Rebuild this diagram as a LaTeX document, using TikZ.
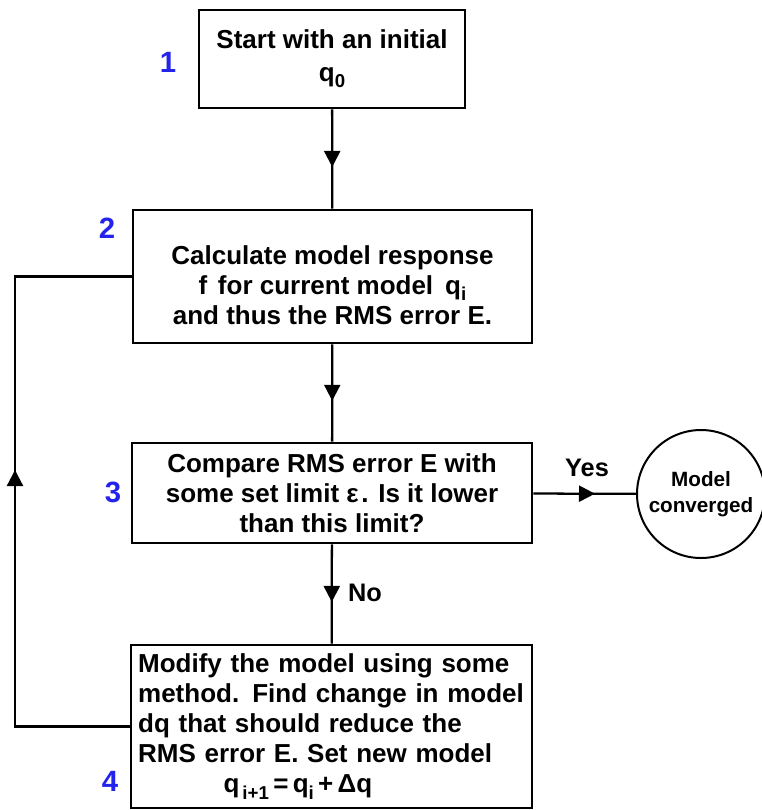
\documentclass[tikz,border=0pt]{standalone}
\usepackage{fontspec}
\setmainfont{Liberation Sans}
\usetikzlibrary{arrows.meta,decorations.markings}
\definecolor{numblue}{RGB}{35,35,235}
\newcommand\sbs[1]{\raisebox{-0.45ex}{\fontsize{14}{14}\selectfont #1}}
\tikzset{
  stepbox/.style={draw, line width=2.2pt, rectangle, inner sep=0pt, align=center,
    font=\fontsize{19.5}{22.5}\selectfont\bfseries},
  conn/.style={line width=1.7pt, line join=miter},
  midarrow/.style={conn, postaction={decorate}, decoration={markings,
    mark=at position #1 with {\arrow{Triangle[length=12pt,width=12pt]}}}},
  numlab/.style={text=numblue, font=\fontsize{22}{22}\selectfont\bfseries},
  edgelab/.style={font=\fontsize{19}{19}\selectfont\bfseries},
}
\begin{document}
\begin{tikzpicture}[x=0.75pt,y=-0.75pt]
\useasboundingbox (0,0) rectangle (761,810);
\node[stepbox, minimum width=199.5pt, minimum height=73.5pt] (b1) at (332,59)
  {Start with an initial\\[2pt] q\sbs{0}};
\node[stepbox, minimum width=299.25pt, minimum height=99.75pt] (b2) at (332.5,276.5)
  {\rule{0pt}{27pt}Calculate model response\\ f\hspace{8pt}for current model\hspace{9pt}q\sbs{i}\\ and\ thus the RMS error E.};
\node[stepbox, minimum width=300pt, minimum height=75pt] (b3) at (332,493)
  {Compare RMS error E with\\ some set limit ε\kern2pt. Is it lower\\ than this limit?};
\node[stepbox, minimum width=300.75pt, minimum height=122.25pt, align=left,
  text width=290pt] (b4) at (331.5,726.5)
  {Modify the model using some\\ method. Find change in model\\ dq that should reduce the\\ RMS error E. Set new model\\ \hspace*{64pt}q\sbs{\,i+1}\,=\,q\sbs{i}\,+\,Δq};
\node[draw, circle, line width=1.5pt, minimum size=96pt, inner sep=0pt, align=center,
  font=\fontsize{15.5}{19.5}\selectfont\bfseries] (c) at (701,494) {Model\\ converged};
\node[numlab] (n1) at (168,62) {1};
\node[numlab] (n2) at (107,228) {2};
\node[numlab] (n3) at (113,492) {3};
\node[numlab] (n4) at (110,781) {4};
\coordinate (lx) at (15,0);
\draw[midarrow=0.58] (b1) -- (b2);
\draw[midarrow=0.58] (b2) -- (b3);
\draw[midarrow=0.58] (b3) -- (b4);
\draw[midarrow=0.6] (b3) -- (c);
\draw[conn] (b4.west) -- (b4.west -| lx) -- (b2.west -| lx) -- (b2.west);
\draw[midarrow=0.57] (b4.west -| lx) -- (b2.west -| lx);
\node[edgelab] (yes) at (587,468) {Yes};
\node[edgelab] (no) at (365,593) {No};
\end{tikzpicture}
\end{document}
